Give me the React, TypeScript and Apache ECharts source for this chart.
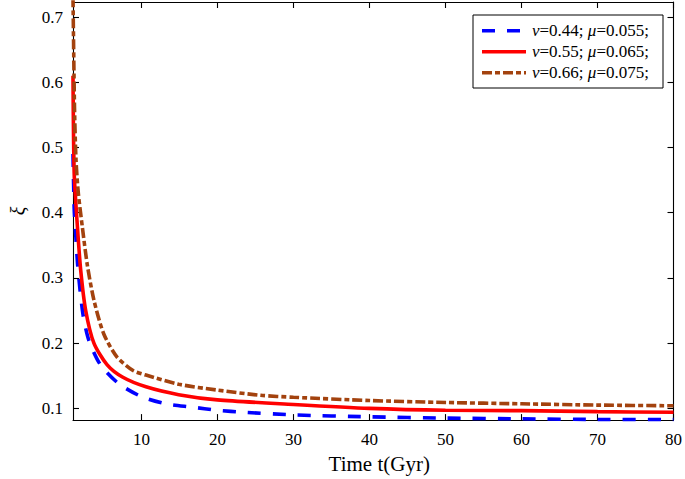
import React, { useEffect, useRef } from "react";
import * as echarts from "echarts";

// Readings from the reference
const tA = [1, 1.16, 1.37, 1.59, 1.94, 2.37, 3.1, 4.6, 7, 10, 13.2, 16.6, 20, 23.5, 30, 40, 50, 60, 70, 80];
const xiA = [0.49, 0.406, 0.364, 0.323, 0.28, 0.24, 0.204, 0.167, 0.138, 0.118, 0.107, 0.102, 0.097, 0.094, 0.09, 0.087, 0.085, 0.084, 0.083, 0.083];
const tB = [1, 1.16, 1.59, 2.02, 2.67, 3.75, 5.47, 7.5, 10.6, 14.9, 20, 30, 40, 50, 60, 70, 80];
const xiB = [0.61, 0.46, 0.377, 0.311, 0.25, 0.2, 0.167, 0.148, 0.133, 0.121, 0.113, 0.106, 0.1, 0.097, 0.0965, 0.095, 0.094];
const tC = [1, 1.2, 1.4, 1.7, 2.24, 2.88, 3.75, 5.05, 6.77, 8.9, 10.6, 14.9, 20, 25.7, 30, 40, 50, 60, 70, 80];
const xiC = [0.73, 0.56, 0.48, 0.43, 0.377, 0.32, 0.266, 0.214, 0.179, 0.158, 0.151, 0.137, 0.128, 0.12, 0.117, 0.112, 0.109, 0.107, 0.105, 0.104];
const seriesNames = ["ν=0.44; μ=0.055;", "ν=0.55; μ=0.065;", "ν=0.66; μ=0.075;"];
const xTicks = [10, 20, 30, 40, 50, 60, 70, 80];
const yTicks = [0.1, 0.2, 0.3, 0.4, 0.5, 0.6, 0.7];

const FONT = "'Liberation Serif', 'Times New Roman', serif";
const COLORS = ["#0000ff", "#ff0000", "#a3420e"];
const DASHES: (number[] | null)[] = [[13, 12], null, [10, 3, 5, 3]];
const LW = 3.6;

export default function App() {
  const ref = useRef<HTMLDivElement>(null);
  useEffect(() => {
    if (!ref.current) return;
    const chart = echarts.init(ref.current, null, { renderer: "svg" });
    const zip = (ts: number[], ys: number[]) => ts.map((t, i) => [t, ys[i]]);
    const axisLineStyle = { color: "#000", width: 1.1 };
    const labelStyle = { color: "#000", fontFamily: FONT, fontSize: 17, fontWeight: "normal" };
    const xBase = {
      type: "value",
      min: 1,
      max: 80,
      axisLine: { show: true, onZero: false, lineStyle: axisLineStyle },
      axisTick: { show: true, inside: true, length: 6, lineStyle: axisLineStyle, customValues: xTicks },
      splitLine: { show: false },
    };
    const yBase = {
      type: "value",
      min: 0.082,
      max: 0.723,
      axisLine: { show: true, onZero: false, lineStyle: axisLineStyle },
      axisTick: { show: true, inside: true, length: 6, lineStyle: axisLineStyle, customValues: yTicks },
      splitLine: { show: false },
    };
    const mkSeries = (i: number, data: number[][]) => ({
      name: seriesNames[i],
      type: "line",
      data,
      showSymbol: false,
      symbol: "none",
      smooth: 0.25,
      color: COLORS[i],
      lineStyle: { color: COLORS[i], width: LW, type: DASHES[i] ?? "solid" },
      xAxisIndex: 0,
      yAxisIndex: 0,
      z: 3 + i,
    });

    // Legend drawn as graphic
    const legendLeft = 473;
    const legendTop = 15;
    const rowY = [30.7, 51.7, 72.7];
    const legendChildren: any[] = [
      {
        type: "rect",
        shape: { x: legendLeft, y: legendTop, width: 190, height: 73 },
        style: { fill: "#fff", stroke: "#000", lineWidth: 1 },
      },
    ];
    seriesNames.forEach((name, i) => {
      legendChildren.push({
        type: "line",
        shape: { x1: 482, y1: rowY[i], x2: 526, y2: rowY[i] },
        style: { stroke: COLORS[i], lineWidth: LW, lineDash: DASHES[i] ?? undefined },
      });
      legendChildren.push({
        type: "text",
        x: 532,
        y: rowY[i],
        style: {
          text: name.replace(/([νμ])/g, "{i|$1}"),
          fill: "#000",
          fontFamily: FONT,
          fontSize: 17,
          verticalAlign: "middle",
          align: "left",
          rich: {
            i: { fontStyle: "italic", fontFamily: FONT, fontSize: 17, fill: "#000" },
          },
        },
      });
    });

    chart.setOption({
      animation: false,
      backgroundColor: "#fff",
      textStyle: { fontFamily: FONT, fontSize: 17, color: "#000" },
      grid: { left: 65, right: 9, top: 2, bottom: 55, containLabel: false },
      xAxis: [
        {
          ...xBase,
          position: "bottom",
          axisLabel: { ...labelStyle, customValues: xTicks, margin: 11 },
          name: "Time t(Gyr)",
          nameLocation: "middle",
          nameGap: 30,
          nameTextStyle: { color: "#000", fontFamily: FONT, fontSize: 21, padding: [0, 0, 0, 12] },
        },
        { ...xBase, position: "top", axisLabel: { show: false } },
      ],
      yAxis: [
        {
          ...yBase,
          position: "left",
          axisLabel: {
            ...labelStyle,
            customValues: yTicks,
            margin: 10,
            formatter: (v: number) => v.toFixed(1),
          },
          name: "ξ",
          nameLocation: "middle",
          nameGap: 45,
          nameRotate: 90,
          nameTextStyle: { color: "#000", fontFamily: FONT, fontSize: 20, fontStyle: "italic" },
        },
        { ...yBase, position: "right", axisLabel: { show: false } },
      ],
      graphic: [{ type: "group", children: legendChildren, z: 100 }],
      series: [mkSeries(0, zip(tA, xiA)), mkSeries(1, zip(tB, xiB)), mkSeries(2, zip(tC, xiC))],
    });
    return () => chart.dispose();
  }, []);
  return (
    <div
      ref={ref}
      style={{ position: "fixed", left: 0, top: 0, width: 685, height: 479, background: "#fff" }}
    />
  );
}
